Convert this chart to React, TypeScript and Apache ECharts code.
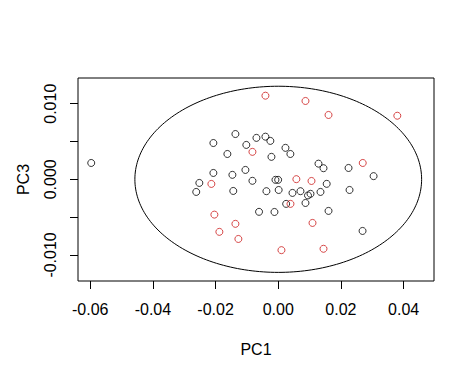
import React, { useEffect, useRef } from "react";
import * as echarts from "echarts";

// Group 1 (black open circles)
const pc1Black = [
  -0.05968, -0.01367, -0.0207, -0.00696, -0.00409, -0.00252, -0.01019, -0.01623, -0.00217, 0.0023,
  0.00387, 0.01284, 0.01444, 0.02243, 0.03042, -0.0207, -0.01463, -0.01048, -0.00824, -0.02518,
  -0.00089, -0.00003, 0.01546, -0.02617, -0.01435, -0.00377, 0.00013, 0.00454, 0.00709, 0.00949,
  0.01029, 0.01348, 0.02275, 0.00252, 0.00869, -0.00613, -0.00121, 0.01604, 0.0269,
];
const pc3Black = [
  0.00216, 0.00599, 0.0048, 0.00548, 0.00564, 0.00508, 0.00455, 0.00335, 0.00297, 0.00416,
  0.00335, 0.00207, 0.00147, 0.0015, 0.00042, 0.00084, 0.00059, 0.00124, -0.0002, -0.00048,
  -0.00007, -0.00007, -0.0006, -0.00167, -0.00154, -0.00157, -0.00141, -0.0018, -0.00157, -0.00213,
  -0.00192, -0.00167, -0.00141, -0.00325, -0.00313, -0.0043, -0.00432, -0.00418, -0.00683,
];

// Group 2 (red open circles)
const pc1Red = [
  -0.00409, 0.00869, 0.01604, 0.03799, -0.00824, 0.02696, 0.00578, 0.01061, -0.02134, 0.0039,
  -0.02038, -0.01367, -0.01879, -0.01272, 0.01093, 0.00102, 0.01444,
];
const pc3Red = [
  0.01106, 0.01036, 0.00851, 0.00841, 0.00363, 0.00216, 0.00002, -0.00022, -0.00061, -0.00325,
  -0.00467, -0.00589, -0.00695, -0.00789, -0.00577, -0.00937, -0.00919,
];

// Ellipse parameters (data units)
const ellipseCx = 0.0;
const ellipseCy = 0.0;
const ellipseA = 0.04575;
const ellipseB = 0.01231;
const ellipseSteps = 240;

const xTicks = [-0.06, -0.04, -0.02, 0.0, 0.02, 0.04];
const yTicks = [-0.01, -0.005, 0.0, 0.005, 0.01];
const yLabelTicks = [-0.01, 0.0, 0.01];

const xMin = -0.0639;
const xMax = 0.0497;
const yMin = -0.01345;
const yMax = 0.0134;

const FONT = "'Liberation Sans', Arial, sans-serif";

export default function App() {
  const ref = useRef<HTMLDivElement>(null);

  useEffect(() => {
    if (!ref.current) return;
    const chart = echarts.init(ref.current, null, { renderer: "svg" });

    const blackData = pc1Black.map((x, i) => [x, pc3Black[i]]);
    const redData = pc1Red.map((x, i) => [x, pc3Red[i]]);
    const ellipseData: number[][] = [];
    for (let i = 0; i <= ellipseSteps; i++) {
      const t = (2 * Math.PI * i) / ellipseSteps;
      ellipseData.push([ellipseCx + ellipseA * Math.cos(t), ellipseCy + ellipseB * Math.sin(t)]);
    }

    chart.setOption({
      animation: false,
      backgroundColor: "#ffffff",
      textStyle: { fontFamily: FONT },
      grid: {
        left: 78,
        right: 41,
        top: 78,
        bottom: 98,
        show: true,
        borderColor: "#000",
        borderWidth: 1,
        backgroundColor: "transparent",
      },
      xAxis: {
        type: "value",
        min: xMin,
        max: xMax,
        name: "PC1",
        nameLocation: "middle",
        nameGap: 60,
        nameTextStyle: { color: "#000", fontSize: 16, fontFamily: FONT },
        axisLine: { show: false, onZero: false },
        splitLine: { show: false },
        axisTick: {
          show: true,
          length: 8,
          inside: false,
          customValues: xTicks,
          lineStyle: { color: "#000", width: 1 },
        },
        axisLabel: {
          customValues: xTicks,
          margin: 20,
          color: "#000",
          fontSize: 16,
          fontFamily: FONT,
          formatter: (v: number) => v.toFixed(2),
        },
      },
      yAxis: {
        type: "value",
        min: yMin,
        max: yMax,
        name: "PC3",
        nameLocation: "middle",
        nameGap: 47,
        nameRotate: 90,
        nameTextStyle: { color: "#000", fontSize: 16, fontFamily: FONT },
        axisLine: { show: false, onZero: false },
        splitLine: { show: false },
        axisTick: {
          show: true,
          length: 8,
          inside: false,
          customValues: yTicks,
          lineStyle: { color: "#000", width: 1 },
        },
        axisLabel: {
          customValues: yLabelTicks,
          rotate: 90,
          margin: 20,
          color: "#000",
          fontSize: 16,
          fontFamily: FONT,
          formatter: (v: number) => v.toFixed(3),
        },
      },
      series: [
        {
          type: "line",
          data: ellipseData,
          showSymbol: false,
          smooth: false,
          lineStyle: { color: "#000", width: 1 },
          silent: true,
          z: 1,
        },
        {
          type: "scatter",
          data: blackData,
          symbol: "circle",
          symbolSize: 7,
          itemStyle: { color: "transparent", borderColor: "#000", borderWidth: 1 },
          z: 2,
        },
        {
          type: "scatter",
          data: redData,
          symbol: "circle",
          symbolSize: 7,
          itemStyle: { color: "transparent", borderColor: "#cc1a1a", borderWidth: 1 },
          z: 3,
        },
      ],
    });

    return () => chart.dispose();
  }, []);

  return (
    <div
      ref={ref}
      style={{ position: "absolute", left: 0, top: 0, width: 475, height: 379, background: "#fff" }}
    />
  );
}
